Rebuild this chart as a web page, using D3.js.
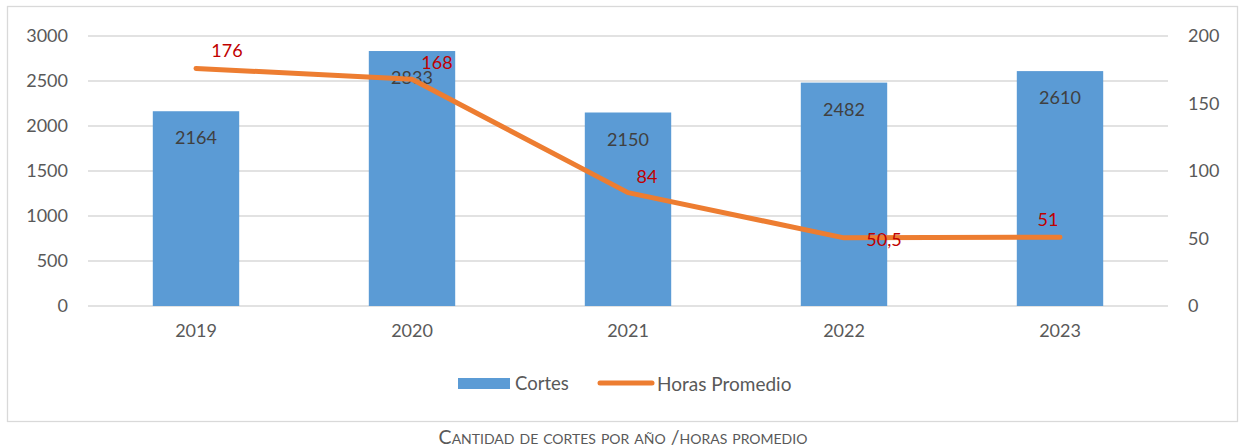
<!DOCTYPE html>
<html>
<head>
<meta charset="utf-8">
<script src="https://cdn.jsdelivr.net/npm/d3@7"></script>
<style>
body { margin: 0; background: #fff; }
text { font-family: Lato, "Open Sans", sans-serif; }
</style>
</head>
<body>
<script>
let years = ["2019", "2020", "2021", "2022", "2023"]
let cortes = [2164, 2833, 2150, 2482, 2610]
let horas = [176, 168, 84, 50.5, 51]
let horasLabels = ["176", "168", "84", "50,5", "51"]
let leftTicks = [0, 500, 1000, 1500, 2000, 2500, 3000]
let rightTicks = [0, 50, 100, 150, 200]

// label placement (Excel put them a bit everywhere)
let labelOffsets = [[31, -18], [25, -17], [19, -16], [40, 2], [-12, -17]]

let w = 1240
let h = 448
let plotL = 88, plotR = 1168, plotT = 36, plotB = 306

let svg = d3.select("body").append("svg")
  .attr("width", w)
  .attr("height", h)

svg.append("rect")
  .attr("x", 7.5).attr("y", 6.5)
  .attr("width", 1230).attr("height", 415)
  .attr("fill", "none")
  .attr("stroke", "#d9d9d9")
  .attr("stroke-width", 1.3)

let xScale = d3.scaleBand().domain(years).range([plotL, plotR]).paddingInner(0.6).paddingOuter(0.3)
let xPoint = d3.scaleBand().domain(years).range([plotL, plotR])
let yLeft = d3.scaleLinear().domain([0, 3000]).range([plotB, plotT])
let yRight = d3.scaleLinear().domain([0, 200]).range([plotB, plotT])

// grid
svg.append("g")
  .selectAll("line")
  .data(leftTicks)
  .enter()
  .append("line")
  .attr("x1", plotL).attr("x2", plotR)
  .attr("y1", d => yLeft(d)).attr("y2", d => yLeft(d))
  .attr("stroke", "#d9d9d9")
  .attr("stroke-width", 1.5)

let yAxisL = d3.axisLeft(yLeft).tickValues(leftTicks).tickFormat(d3.format("d")).tickSize(0).tickPadding(20)
let gl = svg.append("g")
  .attr("transform", "translate(" + plotL + ",0)")
  .call(yAxisL)
gl.select(".domain").remove()
gl.selectAll("text").attr("fill", "#595959").style("font-size", "18px")

let yAxisR = d3.axisRight(yRight).tickValues(rightTicks).tickFormat(d3.format("d")).tickSize(0).tickPadding(20)
let gr = svg.append("g")
  .attr("transform", "translate(" + plotR + ",0)")
  .call(yAxisR)
gr.select(".domain").remove()
gr.selectAll("text").attr("fill", "#595959").style("font-size", "18px")

let xAxis = d3.axisBottom(xPoint).tickSize(0).tickPadding(18)
let gx = svg.append("g")
  .attr("transform", "translate(0," + plotB + ")")
  .call(xAxis)
gx.select(".domain").remove()
gx.selectAll("text").attr("fill", "#595959").style("font-size", "18px")

// bars
svg.selectAll(".bar")
  .data(cortes)
  .enter()
  .append("rect")
  .attr("class", "bar")
  .attr("x", (d, i) => xScale(years[i]))
  .attr("width", xScale.bandwidth())
  .attr("y", d => yLeft(d))
  .attr("height", d => plotB - yLeft(d))
  .attr("fill", "#5b9bd5")

svg.selectAll(".barlabel")
  .data(cortes)
  .enter()
  .append("text")
  .attr("class", "barlabel")
  .attr("x", (d, i) => xScale(years[i]) + xScale.bandwidth() / 2)
  .attr("y", d => yLeft(d) + 33)
  .attr("text-anchor", "middle")
  .attr("fill", "#404040")
  .style("font-size", "18px")
  .text(d => d)

// line
let cx = (i) => xPoint(years[i]) + xPoint.bandwidth() / 2
let line = d3.line()
  .x((d, i) => cx(i))
  .y(d => yRight(d))

svg.append("path")
  .datum(horas)
  .attr("d", line)
  .attr("fill", "none")
  .attr("stroke", "#ed7d31")
  .attr("stroke-width", 5)
  .attr("stroke-linecap", "round")
  .attr("stroke-linejoin", "round")

svg.selectAll(".linelabel")
  .data(horas)
  .enter()
  .append("text")
  .attr("class", "linelabel")
  .attr("x", (d, i) => cx(i) + labelOffsets[i][0])
  .attr("y", (d, i) => yRight(d) + labelOffsets[i][1])
  .attr("dy", "0.35em")
  .attr("text-anchor", "middle")
  .attr("fill", "#c00000")
  .style("font-size", "18px")
  .text((d, i) => horasLabels[i])

// legend
svg.append("rect")
  .attr("x", 458).attr("y", 378)
  .attr("width", 52).attr("height", 11)
  .attr("fill", "#5b9bd5")
svg.append("text")
  .attr("x", 515).attr("y", 384).attr("dy", "0.35em")
  .attr("fill", "#595959").style("font-size", "18.5px")
  .text("Cortes")
svg.append("line")
  .attr("x1", 600).attr("x2", 652)
  .attr("y1", 383).attr("y2", 383)
  .attr("stroke", "#ed7d31").attr("stroke-width", 5)
  .attr("stroke-linecap", "round")
svg.append("text")
  .attr("x", 657).attr("y", 384).attr("dy", "0.35em")
  .attr("fill", "#595959").style("font-size", "19px")
  .text("Horas Promedio")

// caption
svg.append("text")
  .attr("x", 623).attr("y", 437).attr("dy", "0.35em")
  .attr("text-anchor", "middle")
  .attr("fill", "#595959")
  .style("font-size", "19.5px")
  .style("font-variant", "small-caps")
  .text("Cantidad de cortes por año /horas promedio")
</script>
</body>
</html>
